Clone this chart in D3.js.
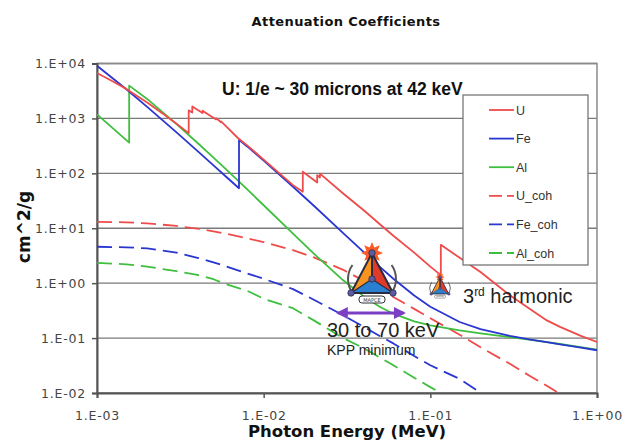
<!DOCTYPE html>
<meta charset="utf-8">
<script src="https://d3js.org/d3.v7.min.js"></script>
<body style="margin:0;background:#fff">
<svg width="633" height="441"></svg>
<script>
    // photon energy (MeV) and mass attenuation (cm^2/g)
    var uE   = [0.001, 0.0012, 0.0015, 0.002, 0.0025, 0.003, 0.00355, 0.00355, 0.00373, 0.00373, 0.0043, 0.0043,
                0.00518, 0.00518, 0.00555, 0.00555, 0.006, 0.007, 0.008, 0.01, 0.015, 0.01717, 0.01717,
                0.02095, 0.02095, 0.02176, 0.02176, 0.03, 0.04, 0.05, 0.06, 0.08, 0.1, 0.1156, 0.1156,
                0.15, 0.2, 0.3, 0.4, 0.5, 0.6, 0.8, 1.0];
    var uMu  = [6700, 5000, 3450, 1950, 1200, 800, 540, 1400, 1280, 1650, 1250, 1380,
                960, 1010, 850, 880, 700, 440, 320, 178, 61, 46, 107,
                68, 93, 84, 99, 43, 21, 11.7, 7.3, 3.6, 2.0, 1.4, 5.0,
                2.9, 1.6, 0.6, 0.33, 0.21, 0.16, 0.11, 0.085];

    var feE  = [0.001, 0.0015, 0.002, 0.003, 0.004, 0.005, 0.006, 0.007112, 0.007112, 0.008, 0.01, 0.015, 0.02,
                0.03, 0.04, 0.05, 0.06, 0.08, 0.1, 0.15, 0.2, 0.3, 0.4, 0.5, 0.6, 0.8, 1.0];
    var feMu = [9085, 3399, 1626, 557.6, 256.7, 139.8, 84.8, 53.6, 407.5, 305.6, 170.6, 57.08, 25.68,
                8.176, 3.629, 1.958, 1.205, 0.5952, 0.3717, 0.1964, 0.146, 0.1099, 0.094, 0.08414, 0.07704, 0.06699, 0.05995];

    var alE  = [0.001, 0.0015, 0.0015596, 0.0015596, 0.002, 0.003, 0.004, 0.005, 0.006, 0.008, 0.01, 0.015, 0.02,
                0.03, 0.04, 0.05, 0.06, 0.08, 0.1, 0.15, 0.2, 0.3, 0.4, 0.5, 0.6, 0.8, 1.0];
    var alMu = [1185, 402.2, 362.1, 3957, 2263, 788, 360.5, 193.4, 115.3, 50.33, 26.23, 7.955, 3.441,
                1.128, 0.5685, 0.3681, 0.2778, 0.2018, 0.1704, 0.1378, 0.1223, 0.1042, 0.09276, 0.08445, 0.07802, 0.06841, 0.06146];

    // coherent scattering, shared energy grid
    var cohE  = [0.001, 0.0015, 0.002, 0.003, 0.004, 0.005, 0.006, 0.008, 0.01, 0.015, 0.02, 0.03, 0.04,
                 0.05, 0.06, 0.08, 0.1, 0.15, 0.2, 0.3, 0.4, 0.5, 0.6, 0.8, 1.0];
    var uCoh  = [13.1, 12.8, 12.3, 11.0, 9.8, 8.8, 7.9, 6.5, 5.6, 4.0, 2.95, 1.75, 1.1,
                 0.78, 0.56, 0.34, 0.23, 0.115, 0.068, 0.034, 0.02, 0.0135, 0.0096, 0.0055, 0.0036];
    var feCoh = [4.6, 4.5, 4.3, 3.6, 2.9, 2.4, 2.0, 1.5, 1.2, 0.78, 0.5, 0.26, 0.16,
                 0.108, 0.08, 0.047, 0.032, 0.018, 0.0102, 0.0046, 0.0026, 0.0017, 0.0012, 0.0007, 0.00045];
    var alCoh = [2.35, 2.2, 2.0, 1.65, 1.42, 1.18, 0.95, 0.72, 0.52, 0.35, 0.21, 0.1, 0.065,
                 0.044, 0.032, 0.019, 0.0128, 0.0065, 0.0038, 0.0017, 0.001, 0.00065, 0.00045, 0.00026, 0.00017];

    var seriesNames  = ["U", "Fe", "Al", "U_coh", "Fe_coh", "Al_coh"];
    var xTicks       = [0.001, 0.01, 0.1, 1];
    var xTickLabels  = ["1.E-03", "1.E-02", "1.E-01", "1.E+00"];
    var yTicks       = [0.01, 0.1, 1, 10, 100, 1000, 10000];
    var yTickLabels  = ["1.E-02", "1.E-01", "1.E+00", "1.E+01", "1.E+02", "1.E+03", "1.E+04"];

    var red = "#ee4b4b", blue = "#2a36d0", green = "#3fbf3f";

    var svg = d3.select("svg");
    var x = d3.scaleLog().domain([1e-3, 1]).range([97, 597]);
    var y = d3.scaleLog().domain([1e-2, 1e4]).range([393, 63.5]);

    // title + axis titles
    svg.append("text").attr("x", 346).attr("y", 26).attr("text-anchor", "middle")
        .attr("font-family", "DejaVu Sans").attr("font-weight", "bold").attr("font-size", "13px")
        .attr("letter-spacing", "0.4").attr("fill", "#111").text("Attenuation Coefficients");
    svg.append("text").attr("x", 347).attr("y", 437).attr("text-anchor", "middle")
        .attr("font-family", "DejaVu Sans").attr("font-weight", "bold").attr("font-size", "16.5px")
        .attr("fill", "#111").text("Photon Energy (MeV)");
    svg.append("text").attr("transform", "translate(30,227) rotate(-90)").attr("text-anchor", "middle")
        .attr("font-family", "DejaVu Sans").attr("font-weight", "bold").attr("font-size", "17px")
        .attr("fill", "#111").text("cm^2/g");

    // grid
    svg.append("g").selectAll("line").data(yTicks).enter().append("line")
        .attr("x1", 97).attr("x2", 597)
        .attr("y1", function(d){ return y(d); }).attr("y2", function(d){ return y(d); })
        .attr("stroke", "#7a7a7a").attr("stroke-width", 1.3);
    svg.append("rect").attr("x", 97).attr("y", 63.5).attr("width", 500).attr("height", 329.5)
        .attr("fill", "none").attr("stroke", "#8a8a8a").attr("stroke-width", 1.5);

    // axes
    var yAxis = svg.append("g").attr("transform", "translate(97,0)")
        .call(d3.axisLeft(y).tickValues(yTicks).tickSize(5).tickPadding(6)
              .tickFormat(function(d, i){ return yTickLabels[i]; }));
    var xAxis = svg.append("g").attr("transform", "translate(0,393)")
        .call(d3.axisBottom(x).tickValues(xTicks).tickSize(5).tickPadding(13)
              .tickFormat(function(d, i){ return xTickLabels[i]; }));
    [yAxis, xAxis].forEach(function(a){
        a.select(".domain").attr("stroke", "#555").attr("stroke-width", 2);
        a.selectAll(".tick line").attr("stroke", "#555").attr("stroke-width", 1.5);
        a.selectAll(".tick text").attr("font-family", "DejaVu Sans").attr("font-size", "12.5px")
            .attr("letter-spacing", "0.8").attr("fill", "#444");
    });

    // curves
    svg.append("clipPath").attr("id", "plotclip").append("rect")
        .attr("x", 97).attr("y", 63).attr("width", 500).attr("height", 330);
    var line = d3.line().x(function(d){ return x(d[0]); }).y(function(d){ return y(d[1]); });
    function zip(a, b){ return a.map(function(v, i){ return [v, b[i]]; }); }

    var curves = [
        {pts: zip(cohE, uCoh),  color: red,   dash: "15,7"},
        {pts: zip(cohE, feCoh), color: blue,  dash: "15,7"},
        {pts: zip(cohE, alCoh), color: green, dash: "15,7"},
        {pts: zip(alE, alMu),   color: green, dash: null},
        {pts: zip(feE, feMu),   color: blue,  dash: null},
        {pts: zip(uE, uMu),     color: red,   dash: null}
    ];
    var plot = svg.append("g").attr("clip-path", "url(#plotclip)");
    plot.selectAll("path").data(curves).enter().append("path")
        .attr("d", function(d){ return line(d.pts); })
        .attr("fill", "none")
        .attr("stroke", function(d){ return d.color; })
        .attr("stroke-width", 1.8)
        .attr("stroke-linejoin", "round")
        .attr("stroke-dasharray", function(d){ return d.dash; });

    // annotation
    svg.append("text").attr("x", 222).attr("y", 95)
        .attr("font-family", "Liberation Sans").attr("font-weight", "bold").attr("font-size", "17.5px")
        .attr("fill", "#111").text("U: 1/e ~ 30 microns at 42 keV");

    // legend
    var legendColors = [red, blue, green, red, blue, green];
    var legend = svg.append("g");
    legend.append("rect").attr("x", 463).attr("y", 95).attr("width", 125).attr("height", 170)
        .attr("fill", "#fff").attr("stroke", "#777").attr("stroke-width", 1.3);
    var rows = legend.selectAll("g.row").data(seriesNames).enter().append("g")
        .attr("transform", function(d, i){ return "translate(0," + (110 + i * 28.6) + ")"; });
    rows.append("line").attr("x1", 489).attr("x2", 514).attr("y1", 0).attr("y2", 0)
        .attr("stroke", function(d, i){ return legendColors[i]; }).attr("stroke-width", 1.8)
        .attr("stroke-dasharray", function(d, i){ return i > 2 ? "13,5" : null; });
    rows.append("text").attr("x", 516).attr("y", 4.5)
        .attr("font-family", "Liberation Sans").attr("font-size", "12.5px").attr("fill", "#333")
        .text(function(d){ return d; });

    // logos
    function drawLogo(cx, cy, s){
        var g = svg.append("g").attr("transform", "translate(" + cx + "," + cy + ") scale(" + s + ")");
        var top = [0, -26], left = [-21, 14], right = [21, 14], mid = [0, 0];
        var arc = d3.arc().innerRadius(23).outerRadius(25);
        g.append("path").attr("d", arc({startAngle: -2.2, endAngle: -0.95})).attr("fill", "#555");
        g.append("path").attr("d", arc({startAngle: 0.95, endAngle: 2.2})).attr("fill", "#555");
        var rays = d3.range(16).map(function(i){
            var a = i * Math.PI / 8, r = i % 2 ? 6 : 11;
            return [top[0] + r * Math.sin(a), top[1] - r * Math.cos(a)];
        });
        g.append("polygon").attr("points", rays.join(" ")).attr("fill", "#ff5a22");
        g.append("polygon").attr("points", [top, mid, left].join(" ")).attr("fill", "#f7941d");
        g.append("polygon").attr("points", [top, right, mid].join(" ")).attr("fill", "#e03a2a");
        g.append("polygon").attr("points", [left, mid, right].join(" ")).attr("fill", "#2a7fd0");
        g.append("polygon").attr("points", [top, left, right].join(" "))
            .attr("fill", "none").attr("stroke", "#2b2b40").attr("stroke-width", 2);
        [left, mid, right].forEach(function(p){
            g.append("line").attr("x1", top[0]).attr("y1", top[1]).attr("x2", mid[0]).attr("y2", mid[1])
                .attr("stroke", "#2b2b40").attr("stroke-width", 1.6);
            g.append("line").attr("x1", mid[0]).attr("y1", mid[1]).attr("x2", p[0]).attr("y2", p[1])
                .attr("stroke", "#2b2b40").attr("stroke-width", 1.2);
        });
        [top, left, right, mid].forEach(function(p){
            g.append("circle").attr("cx", p[0]).attr("cy", p[1]).attr("r", 3.2)
                .attr("fill", "#5b5ba8").attr("stroke", "#2b2b40").attr("stroke-width", 0.8);
        });
        g.append("rect").attr("x", -13).attr("y", 17).attr("width", 26).attr("height", 7).attr("rx", 3)
            .attr("fill", "#fff").attr("stroke", "#333").attr("stroke-width", 1);
        g.append("text").attr("x", 0).attr("y", 22.5).attr("text-anchor", "middle")
            .attr("font-family", "DejaVu Sans").attr("font-size", "5px").attr("fill", "#333").text("MAPCE");
    }
    drawLogo(372, 279, 1);
    drawLogo(440, 288, 0.42);

    // 30-70 keV range arrow
    var defs = svg.append("defs");
    defs.append("marker").attr("id", "ah").attr("viewBox", "0 0 10 10").attr("refX", 8).attr("refY", 5)
        .attr("markerWidth", 4).attr("markerHeight", 4).attr("orient", "auto-start-reverse")
        .append("path").attr("d", "M0,0 L10,5 L0,10 z").attr("fill", "#7b3fc4");
    svg.append("line").attr("x1", x(0.03) - 5).attr("x2", x(0.07) - 1).attr("y1", 313).attr("y2", 313)
        .attr("stroke", "#7b3fc4").attr("stroke-width", 3)
        .attr("marker-start", "url(#ah)").attr("marker-end", "url(#ah)");

    svg.append("text").attr("x", 327).attr("y", 337)
        .attr("font-family", "Liberation Sans").attr("font-size", "20px").attr("fill", "#222").text("30 to 70 keV");
    svg.append("text").attr("x", 327).attr("y", 355)
        .attr("font-family", "Liberation Sans").attr("font-size", "14px").attr("fill", "#222").text("KPP minimum");

    var harm = svg.append("text").attr("x", 463).attr("y", 303)
        .attr("font-family", "Liberation Sans").attr("font-size", "20px").attr("fill", "#222");
    harm.append("tspan").text("3");
    harm.append("tspan").attr("dy", -7).attr("font-size", "12px").text("rd");
    harm.append("tspan").attr("dy", 7).text(" harmonic");
</script>
</body>
